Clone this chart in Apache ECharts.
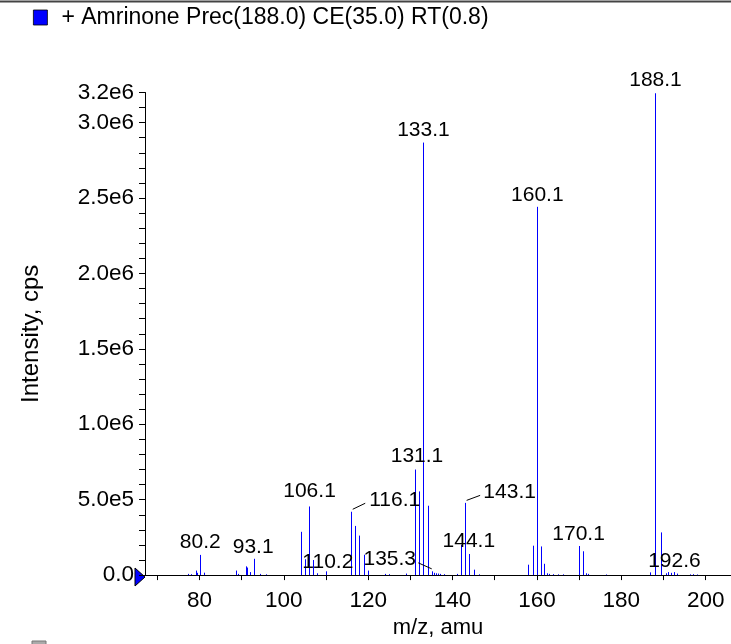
<!DOCTYPE html>
<html>
<head>
<meta charset="utf-8">
<script src="https://cdn.jsdelivr.net/npm/echarts@6/dist/echarts.min.js"></script>
<style>
html,body{margin:0;padding:0;background:#fff;}
#chart{width:731px;height:644px;}
</style>
</head>
<body>
<div id="chart"></div>
<script>
// ---- data ----
const seriesName = '+ Amrinone Prec(188.0) CE(35.0) RT(0.8)';
const mz = [77.3,78.2,79.2,79.6,80.2,81.1,88.7,89.2,91.1,91.5,92.0,93.1,94.4,96.0,
  104.1,105.1,106.1,107.1,108.0,110.2,116.1,117.1,118.0,119.1,120.1,124.0,125.0,129.1,
  131.1,132.1,133.1,134.3,135.3,135.7,136.2,136.6,137.2,138.0,141.2,142.2,143.1,144.1,145.3,146.4,
  158.0,159.1,160.1,161.1,161.8,162.5,163.0,164.0,165.0,166.2,170.1,171.0,171.8,172.3,176.4,
  187.0,188.1,189.5,190.7,191.3,191.9,192.6,193.3,196.3,197.0,198.0];
const intensity = [8000,6000,30000,15000,134000,16000,30000,8000,58000,50000,20000,108000,8000,5000,
  287000,105000,455000,100000,12000,25000,420000,326000,262000,135000,30000,8000,6000,10000,
  700000,555000,2868000,460000,25000,15000,12000,10000,8000,6000,8000,200000,479000,140000,36000,5000,
  69000,195000,2442000,190000,75000,12000,8000,6000,5000,5000,193000,158000,12000,8000,4000,
  18000,3195000,283000,12000,20000,15000,20000,10000,5000,6000,4000];
const labelMz = [80.2,93.1,106.1,110.2,116.1,131.1,133.1,135.3,143.1,144.1,160.1,170.1,188.1,192.6];
const xTicks = [70,80,90,100,110,120,130,140,150,160,170,180,190,200];
const xTickLabels = [80,100,120,140,160,180,200];
const yTicks = [0,1e5,2e5,3e5,4e5,5e5,6e5,7e5,8e5,9e5,1e6,1.1e6,1.2e6,1.3e6,1.4e6,1.5e6,1.6e6,1.7e6,1.8e6,1.9e6,
  2e6,2.1e6,2.2e6,2.3e6,2.4e6,2.5e6,2.6e6,2.7e6,2.8e6,2.9e6,3e6,3.1e6,3.2e6];
const yTickLabels = [0,5e5,1e6,1.5e6,2e6,2.5e6,3e6,3.2e6];

// ---- label placement (style: pixel offsets of text centre from peak top, leader side) ----
const labelOffsets = {
  80.2:[0,-12.5,null], 93.1:[-1.5,-11.5,null], 106.1:[0,-15,null], 110.2:[1,-9,null],
  116.1:[43,-12,'right'], 131.1:[2,-13,null], 133.1:[0,-12,null], 135.3:[-43,-12,'left'],
  143.1:[44,-11,'right'], 144.1:[-1,-12.5,null], 160.1:[0,-12,null], 170.1:[-1,-12,null],
  188.1:[0,-13,null], 192.6:[0,-11,null]
};

const FONT = '"Liberation Sans", Arial, Helvetica, sans-serif';
const PEAK_FONT_SIZE = 21;
const stickData = mz.map((m,i)=>[m, intensity[i]]);
const labelData = labelMz.map(m=>[m, intensity[mz.indexOf(m)]]);

function yFmt(v){
  if (v === 0) return '0.0';
  return v.toExponential(1).replace('e+','e');
}

const chart = echarts.init(document.getElementById('chart'), null, {renderer:'canvas'});
chart.setOption({
  animation:false,
  backgroundColor:'#fff',
  legend:{
    show:true, left:33, top:6, padding:0, icon:'rect', itemWidth:14, itemHeight:15,
    data:[{name:seriesName, itemStyle:{color:'#0000ff', borderColor:'#000', borderWidth:0.8}}],
    textStyle:{fontFamily:FONT, fontSize:23, color:'#000', padding:[0,0,0,9]},
    selectedMode:false
  },
  grid:{left:145, right:0, top:92.5, bottom:62.5, containLabel:false},
  xAxis:{
    type:'value', min:67.1, max:206,
    axisLine:{show:true, lineStyle:{color:'#000', width:1}},
    axisTick:{show:true, length:5, lineStyle:{color:'#000'}, customValues:xTicks},
    axisLabel:{show:true, customValues:xTickLabels, fontFamily:FONT, fontSize:22.5, color:'#000', margin:14},
    splitLine:{show:false},
    name:'m/z, amu', nameLocation:'middle', nameGap:37,
    nameTextStyle:{fontFamily:FONT, fontSize:22, color:'#000'}
  },
  yAxis:{
    type:'value', min:0, max:3.2e6,
    axisLine:{show:true, lineStyle:{color:'#000', width:1}},
    axisTick:{show:true, length:6, lineStyle:{color:'#000'}, customValues:yTicks},
    axisLabel:{show:true, customValues:yTickLabels, formatter:yFmt, fontFamily:FONT, fontSize:22.5, color:'#000', margin:11},
    splitLine:{show:false},
    name:'Intensity, cps', nameLocation:'middle', nameGap:102, nameRotate:90,
    nameTextStyle:{fontFamily:FONT, fontSize:24, color:'#000'}
  },
  series:[
    {
      name:seriesName, type:'custom', data:stickData,
      clip:false,
      renderItem:function(params, api){
        const x = api.value(0), y = api.value(1);
        const p0 = api.coord([x,0]), p1 = api.coord([x,y]);
        const px = Math.round(p0[0]-0.5)+0.5;
        return {type:'line', shape:{x1:px, y1:p0[1], x2:px, y2:p1[1]},
          style:{stroke:'#0000ff', lineWidth:1}};
      }
    },
    {
      name:'labels', type:'custom', data:labelData, clip:false, silent:true,
      renderItem:function(params, api){
        const m = api.value(0), y = api.value(1);
        const top = api.coord([m,y]);
        const off = labelOffsets[m];
        const cx = top[0]+off[0], cy = top[1]+off[1];
        const txt = m.toFixed(1);
        const children = [{
          type:'text', style:{text:txt, x:cx, y:cy, align:'center', verticalAlign:'middle',
            font:PEAK_FONT_SIZE+'px '+FONT, fill:'#000'}
        }];
        if (off[2]) {
          const halfW = 26.5;
          let x1, x2;
          if (off[2]==='right') { x1 = top[0]+1; x2 = cx-halfW-3; }
          else { x1 = top[0]-1; x2 = cx+halfW+2; }
          children.push({type:'line', shape:{x1:x1, y1:top[1]-2.5, x2:x2, y2:cy+3.5},
            style:{stroke:'#000', lineWidth:1}});
        }
        return {type:'group', children:children};
      }
    }
  ],
  graphic:[
    {type:'line', shape:{x1:0,y1:1.5,x2:731,y2:1.5}, style:{stroke:'#444', lineWidth:2}},
    {type:'polygon', shape:{points:[[135,568],[145,577],[135,586]]}, style:{fill:'#0000ff', stroke:'#000', lineWidth:1}},
    {type:'rect', shape:{x:32,y:641,width:14,height:12}, style:{fill:'#aaa', stroke:'#777', lineWidth:1}}
  ]
});
</script>
</body>
</html>
